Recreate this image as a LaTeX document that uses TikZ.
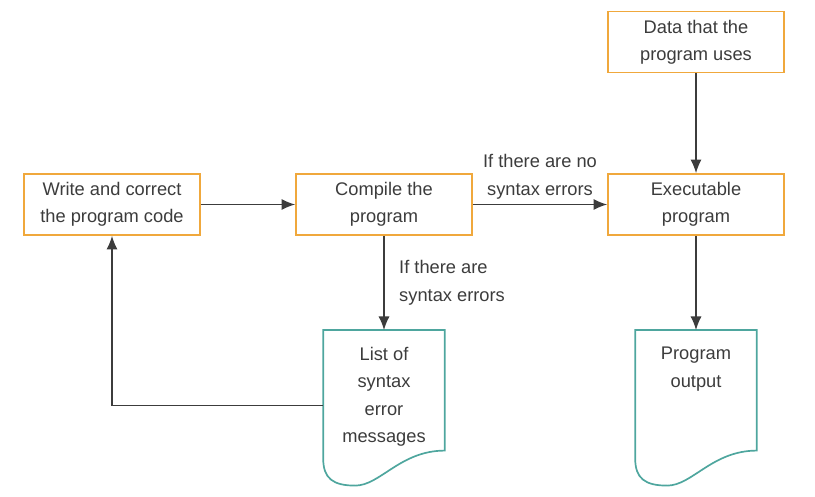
\documentclass[tikz,border=0pt]{standalone}
\usepackage{fontspec}
\setmainfont{Liberation Sans}
\usetikzlibrary{arrows.meta,calc}
\definecolor{boxorange}{RGB}{240,168,60}
\definecolor{docteal}{RGB}{78,166,158}
\definecolor{ink}{RGB}{60,60,60}

\begin{document}
\begin{tikzpicture}[
  x=0.025cm,y=-0.025cm,
  every node/.style={font=\fontsize{13}{19.5}\selectfont,text=ink},
  task/.style={rectangle,draw=boxorange,line width=1.2pt,minimum width=4.4cm,minimum height=1.525cm,align=center,inner sep=2pt},
  doc/.style={rectangle,anchor=north,minimum width=3.025cm,minimum height=3.75cm,inner sep=0.175cm},
  docline/.style={docteal,line width=1.2pt},
  flow/.style={ink,line width=1pt,-{Latex[length=3.4mm,width=2.8mm]}}
]
  \useasboundingbox (0,0) rectangle (815,497);
  \node[task] (write) at (112,204.5) {Write and correct\\the program code};
  \node[task] (compile) at (384,204.5) {Compile the\\program};
  \node[task] (exec) at (696,204.5) {Executable\\program};
  \node[task] (data) at (696,42) {Data that the\\program uses};
  \node[doc] (list) at (384,330) {\parbox[c][3.4cm][t]{2.6cm}{\vspace*{7pt}\centering List of\\syntax\\error\\messages}};
  \node[doc] (output) at (696,330) {\parbox[c][3.4cm][t]{2.6cm}{\vspace*{7pt}\centering Program\\output}};
  % document outlines with the wavy bottom
  \foreach \d in {list,output}{
    \draw[docline] ($(\d.south west)+(0,-22)$) -- (\d.north west) -- (\d.north east)
      -- ($(\d.south east)+(0,-30)$)
      .. controls ($(\d.south west)+(77,-30)$) and ($(\d.south west)+(57,5)$) .. ($(\d.south west)+(32,5)$)
      .. controls ($(\d.south west)+(10,5)$) and ($(\d.south west)+(0,-2)$) .. ($(\d.south west)+(0,-22)$);
  }
  \draw[flow] (write) -- (compile);
  \draw[flow] (compile) -- node[above,align=center]{If there are no\\syntax errors} (exec);
  \draw[flow] (compile) -- node[right=7pt,align=left]{If there are\\syntax errors} (list);
  \draw[flow] (data) -- (exec);
  \draw[flow] (exec) -- (output);
  \draw[flow] (list.west) -| (write);
\end{tikzpicture}
\end{document}
